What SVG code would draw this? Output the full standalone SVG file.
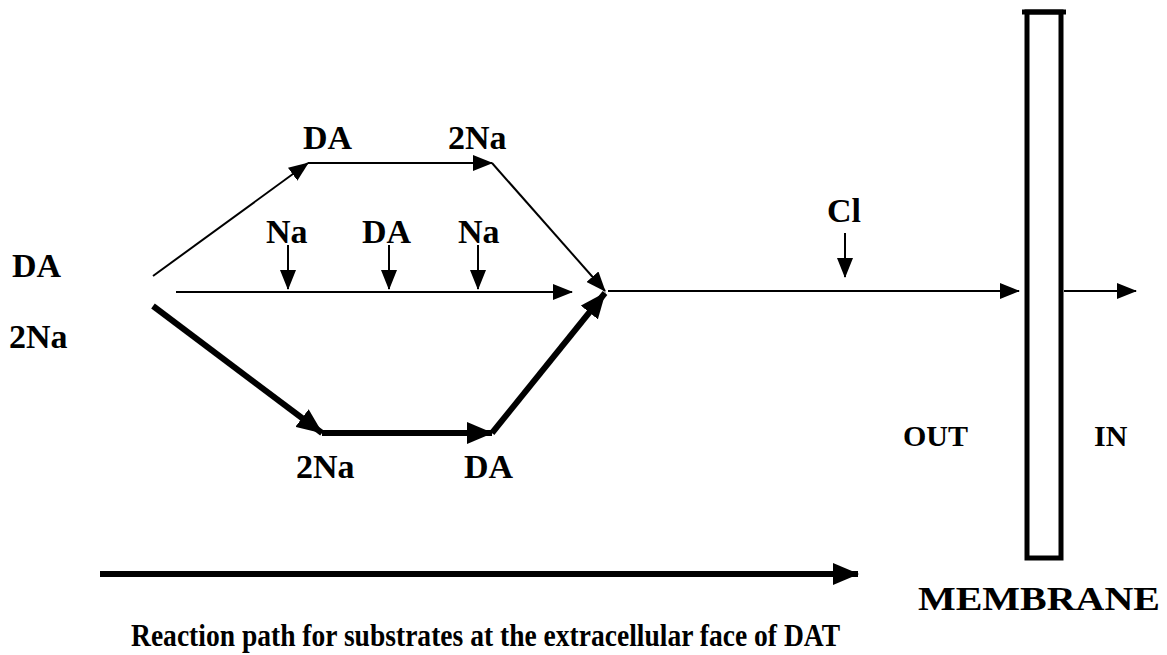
<svg xmlns="http://www.w3.org/2000/svg" width="1167" height="655" viewBox="0 0 1167 655">
<style>
text{font-family:"Liberation Serif","Times New Roman",Tinos,"DejaVu Serif",serif;font-weight:bold;fill:#000}
.lbl{font-size:34px}
.sm{font-size:30px}
.cap{font-size:32px}
.thin{stroke:#000;stroke-width:2;fill:none}
.thick{stroke:#000;stroke-width:6;fill:none}
</style>
<defs>
<marker id="ah" markerUnits="userSpaceOnUse" markerWidth="20" markerHeight="16" refX="19" refY="8" orient="auto">
<path d="M0,0 L20,8 L0,16 z" fill="#000"/>
</marker>
<marker id="ahT" markerUnits="userSpaceOnUse" markerWidth="26" markerHeight="22" refX="25" refY="11" orient="auto">
<path d="M0,0 L26,11 L0,22 z" fill="#000"/>
</marker>
</defs>
<rect width="1167" height="655" fill="#fff"/>
<g id="connectors">
<line class="thin" x1="153" y1="276" x2="308" y2="163" marker-end="url(#ah)"/>
<line class="thin" x1="308" y1="163" x2="492" y2="163" marker-end="url(#ah)"/>
<line class="thin" x1="492" y1="163" x2="605" y2="291" marker-end="url(#ah)"/>
<line class="thin" x1="176" y1="292" x2="572" y2="292" marker-end="url(#ah)"/>
<line class="thin" x1="288" y1="245" x2="288" y2="289" marker-end="url(#ah)"/>
<line class="thin" x1="389" y1="245" x2="389" y2="289" marker-end="url(#ah)"/>
<line class="thin" x1="478" y1="245" x2="478" y2="289" marker-end="url(#ah)"/>
<line class="thick" x1="153" y1="306" x2="322" y2="433" marker-end="url(#ahT)"/>
<line class="thick" x1="322" y1="433" x2="492" y2="433" marker-end="url(#ahT)"/>
<line class="thick" x1="492" y1="433" x2="605" y2="293" marker-end="url(#ahT)"/>
<line class="thin" x1="608" y1="291" x2="1019" y2="291" marker-end="url(#ah)"/>
<line class="thin" x1="845" y1="233" x2="845" y2="277" marker-end="url(#ah)"/>
<line class="thin" x1="1064" y1="291" x2="1136" y2="291" marker-end="url(#ah)"/>
<line class="thick" x1="100" y1="574" x2="858" y2="574" marker-end="url(#ahT)"/>
</g>
<g id="membrane">
<rect x="1027" y="12" width="34" height="546" fill="#fff" stroke="#000" stroke-width="5"/>
<line x1="1022" y1="12" x2="1066" y2="12" stroke="#000" stroke-width="5"/>
</g>
<g id="labels">
<text class="lbl" x="12" y="277">DA</text>
<text class="lbl" x="9" y="348">2Na</text>
<text class="lbl" x="303" y="149">DA</text>
<text class="lbl" x="448" y="149">2Na</text>
<text class="lbl" x="266" y="243">Na</text>
<text class="lbl" x="362" y="243">DA</text>
<text class="lbl" x="458" y="243">Na</text>
<text class="lbl" x="827" y="222">Cl</text>
<text class="lbl" x="296" y="478">2Na</text>
<text class="lbl" x="464" y="478">DA</text>
<text class="sm" x="903" y="446">OUT</text>
<text class="sm" x="1094" y="446">IN</text>
<text class="lbl" x="918" y="610" textLength="242" lengthAdjust="spacingAndGlyphs">MEMBRANE</text>
<text class="cap" x="131" y="646" textLength="709" lengthAdjust="spacingAndGlyphs">Reaction path for substrates at the extracellular face of DAT</text>
</g>
</svg>
